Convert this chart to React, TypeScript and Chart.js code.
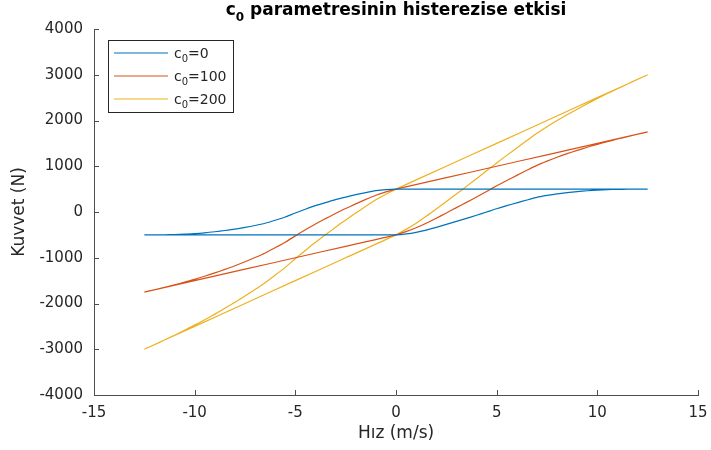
import React, { useEffect, useRef } from "react";
import { Chart, registerables } from "chart.js";

Chart.register(...registerables);

// Velocity (m/s) along the loading branch (increasing) and unloading branch (decreasing)
const velocityLower = [-12.5, -10, -7.5, -5, -2.5, 0, 0.5, 1, 1.5, 2, 2.5, 3, 3.5, 4, 4.5, 5, 5.5, 6, 6.5, 7, 7.5, 8, 8.5, 9, 9.5, 10, 10.5, 11, 11.5, 12, 12.5];
const velocityUpper = [12.5, 10, 7.5, 5, 2.5, 0, -0.5, -1, -1.5, -2, -2.5, -3, -3.5, -4, -4.5, -5, -5.5, -6, -6.5, -7, -7.5, -8, -8.5, -9, -9.5, -10, -10.5, -11, -11.5, -12, -12.5];

// Force (N), c0 = 0
const kuvvetC0Lower = [-500, -500, -500, -500, -500, -500, -480, -445, -395, -336, -272, -205, -140, -72, 0, 72, 138, 200, 262, 320, 362, 398, 425, 447, 465, 479, 489, 495, 498, 500, 500];
const kuvvetC0Upper = [500, 500, 500, 500, 500, 500, 490, 466, 425, 378, 325, 269, 205, 138, 60, -22, -110, -180, -245, -295, -338, -375, -405, -432, -455, -472, -483, -493, -498, -500, -500];

// Force (N), c0 = 100
const kuvvetC100Lower = [-1750, -1500, -1250, -1000, -750, -500, -430, -345, -245, -136, -22, 95, 210, 328, 450, 572, 688, 800, 912, 1020, 1112, 1198, 1275, 1347, 1415, 1479, 1539, 1595, 1648, 1700, 1750];
const kuvvetC100Upper = [1750, 1500, 1250, 1000, 750, 500, 440, 366, 275, 178, 75, -31, -145, -262, -390, -522, -660, -780, -895, -995, -1088, -1175, -1255, -1332, -1405, -1472, -1533, -1593, -1648, -1700, -1750];

// Force (N), c0 = 200
const kuvvetC200Lower = [-3000, -2500, -2000, -1500, -1000, -500, -380, -245, -95, 64, 228, 395, 560, 728, 900, 1072, 1238, 1400, 1562, 1720, 1862, 1998, 2125, 2247, 2365, 2479, 2589, 2695, 2798, 2900, 3000];
const kuvvetC200Upper = [3000, 2500, 2000, 1500, 1000, 500, 390, 266, 125, -22, -175, -331, -495, -662, -840, -1022, -1210, -1380, -1545, -1695, -1838, -1975, -2105, -2232, -2355, -2472, -2583, -2693, -2798, -2900, -3000];

const seriesValues = ["0", "100", "200"];
const seriesColors = ["#0072BD", "#D95319", "#EDB120"];

const titleRest = " parametresinin histerezise etkisi";
const xLabel = "Hız (m/s)";
const yLabel = "Kuvvet (N)";

function loop(lower: number[], upper: number[]) {
  const pts: { x: number; y: number }[] = [];
  velocityLower.forEach((v, i) => pts.push({ x: v, y: lower[i] }));
  velocityUpper.forEach((v, i) => pts.push({ x: v, y: upper[i] }));
  return pts;
}

const FONT = "'DejaVu Sans', sans-serif";
const AXIS_COLOR = "#4d4d4d";
const TEXT_COLOR = "#262626";

const overlayPlugin = {
  id: "overlay",
  afterDraw(chart: any) {
    const ctx: CanvasRenderingContext2D = chart.ctx;
    const { left, right, top, bottom } = chart.chartArea;
    const xs = chart.scales.x;
    const ys = chart.scales.y;
    ctx.save();

    // inward tick marks
    ctx.strokeStyle = AXIS_COLOR;
    ctx.lineWidth = 1;
    xs.ticks.forEach((t: any) => {
      const p = Math.round(xs.getPixelForValue(t.value)) + 0.5;
      ctx.beginPath();
      ctx.moveTo(p, bottom);
      ctx.lineTo(p, bottom - 5);
      ctx.stroke();
    });
    ys.ticks.forEach((t: any) => {
      const p = Math.round(ys.getPixelForValue(t.value)) + 0.5;
      ctx.beginPath();
      ctx.moveTo(left, p);
      ctx.lineTo(left + 5, p);
      ctx.stroke();
    });

    // title with subscript
    ctx.fillStyle = "#000";
    ctx.textBaseline = "alphabetic";
    ctx.textAlign = "left";
    const mainFont = `bold 17px ${FONT}`;
    const subFont = `bold 12px ${FONT}`;
    ctx.font = mainFont;
    const wc = ctx.measureText("c").width;
    const wr = ctx.measureText(titleRest).width;
    ctx.font = subFont;
    const ws = ctx.measureText("0").width;
    const total = wc + ws + wr;
    let tx = (left + right) / 2 - total / 2;
    ctx.font = mainFont;
    ctx.fillText("c", tx, 15);
    tx += wc;
    ctx.font = subFont;
    ctx.fillText("0", tx, 21);
    tx += ws;
    ctx.font = mainFont;
    ctx.fillText(titleRest, tx, 15);

    // axis titles
    ctx.fillStyle = TEXT_COLOR;
    ctx.font = `17px ${FONT}`;
    ctx.textAlign = "center";
    ctx.textBaseline = "alphabetic";
    ctx.fillText(xLabel, (left + right) / 2, 438);
    ctx.save();
    ctx.translate(20, (top + bottom) / 2);
    ctx.rotate(-Math.PI / 2);
    ctx.textBaseline = "middle";
    ctx.fillText(yLabel, 0, 0);
    ctx.restore();

    // legend
    const bx = 108.5, by = 40.5, bw = 125, bh = 72;
    ctx.fillStyle = "#fff";
    ctx.fillRect(bx, by, bw, bh);
    ctx.strokeStyle = TEXT_COLOR;
    ctx.lineWidth = 1;
    ctx.strokeRect(bx, by, bw, bh);
    seriesValues.forEach((val, i) => {
      const ly = 53 + i * 23;
      ctx.strokeStyle = seriesColors[i];
      ctx.lineWidth = 1.2;
      ctx.beginPath();
      ctx.moveTo(114, ly);
      ctx.lineTo(168, ly);
      ctx.stroke();
      ctx.fillStyle = TEXT_COLOR;
      ctx.textAlign = "left";
      ctx.textBaseline = "alphabetic";
      let lx = 174;
      ctx.font = `14px ${FONT}`;
      ctx.fillText("c", lx, ly + 4.5);
      lx += ctx.measureText("c").width;
      ctx.font = `10px ${FONT}`;
      ctx.fillText("0", lx, ly + 8.5);
      lx += ctx.measureText("0").width;
      ctx.font = `14px ${FONT}`;
      ctx.fillText("=" + val, lx, ly + 4.5);
    });

    ctx.restore();
  },
};

export default function App() {
  const ref = useRef<HTMLCanvasElement | null>(null);

  useEffect(() => {
    document.body.style.margin = "0";
    const canvas = ref.current;
    if (!canvas) return;
    const chart = new Chart(canvas, {
      type: "line",
      data: {
        datasets: [
          { label: "c0=" + seriesValues[0], data: loop(kuvvetC0Lower, kuvvetC0Upper), borderColor: seriesColors[0] },
          { label: "c0=" + seriesValues[1], data: loop(kuvvetC100Lower, kuvvetC100Upper), borderColor: seriesColors[1] },
          { label: "c0=" + seriesValues[2], data: loop(kuvvetC200Lower, kuvvetC200Upper), borderColor: seriesColors[2] },
        ].map((d) => ({
          ...d,
          borderWidth: 1.2,
          pointRadius: 0,
          fill: false,
          tension: 0.25,
        })),
      },
      options: {
        animation: false,
        responsive: false,
        maintainAspectRatio: false,
        layout: { padding: { left: 0, right: 13, top: 29, bottom: 0 } },
        plugins: {
          legend: { display: false },
          title: { display: false },
          tooltip: { enabled: false },
        },
        scales: {
          x: {
            type: "linear",
            min: -15,
            max: 15,
            ticks: { stepSize: 5, padding: 9, color: TEXT_COLOR, font: { family: FONT, size: 15 }, maxRotation: 0, callback: (v: any) => String(v) },
            grid: { display: false, drawTicks: false },
            border: { display: true, color: AXIS_COLOR, width: 1 },
            afterFit: (s: any) => { s.height = 55; s.paddingRight = 0; s.paddingLeft = 0; },
          },
          y: {
            type: "linear",
            min: -4000,
            max: 4000,
            ticks: { stepSize: 1000, padding: 11, color: TEXT_COLOR, font: { family: FONT, size: 15 }, callback: (v: any) => String(v) },
            grid: { display: false, drawTicks: false },
            border: { display: true, color: AXIS_COLOR, width: 1 },
            afterFit: (s: any) => { s.width = 94; s.paddingTop = 0; s.paddingBottom = 0; },
          },
        },
      },
      plugins: [overlayPlugin],
    } as any);
    return () => chart.destroy();
  }, []);

  return (
    <div style={{ position: "absolute", left: 0, top: 0, width: 711, height: 450, background: "#fff" }}>
      <canvas ref={ref} width={711} height={450} />
    </div>
  );
}
